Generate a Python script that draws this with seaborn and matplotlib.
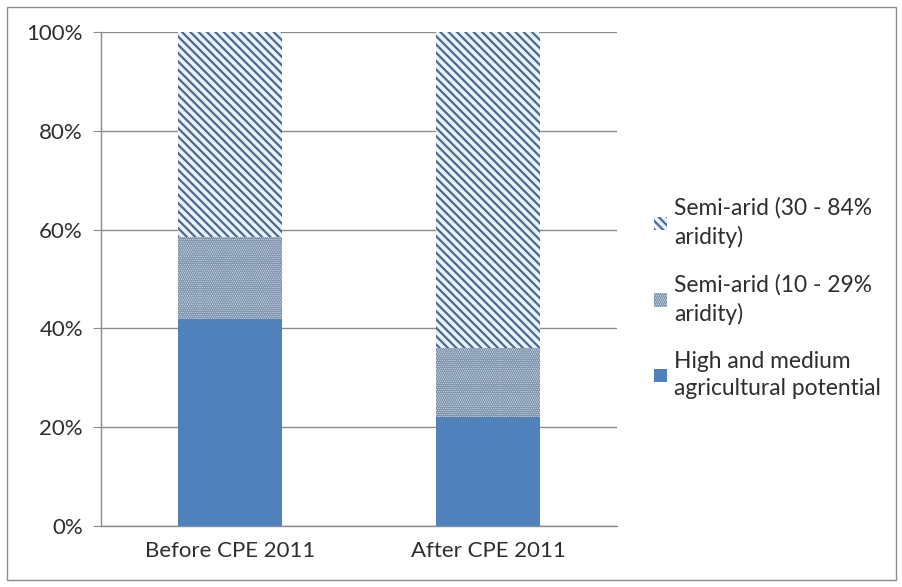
"""Stacked 100% bars: land share by agricultural potential before/after CPE 2011."""

import matplotlib

matplotlib.use("Agg")
import matplotlib.pyplot as plt
import seaborn as sns
from matplotlib.patches import Patch, Rectangle
from matplotlib.ticker import FuncFormatter


periods = ["Before CPE 2011", "After CPE 2011"]
high_medium = [42.0, 22.0]
semi_arid_10_29 = [16.5, 14.0]
semi_arid_30_84 = [41.5, 64.0]

labels = [
    "Semi-arid (30 - 84%\naridity)",
    "Semi-arid (10 - 29%\naridity)",
    "High and medium\nagricultural potential",
]

BLUE = "#4F81BD"
TEXT = "#2E2E2E"
GRID = "#8C8C8C"
STRIPE_BG = "#EAF4FD"
STRIPE = "#4D6891"
DOT_BG = "#C4D3E4"
DOT = "#7F93AC"
STRIPES = "\\" * 4
DOTS = "." * 8


def main():
    sns.set_style("white")
    plt.rcParams["font.family"] = ["Lato", "DejaVu Sans"]
    plt.rcParams["hatch.linewidth"] = 1.6

    fig = plt.figure(figsize=(9.03, 5.87), dpi=100)
    ax = fig.add_axes([101 / 903, 1 - 526 / 587, 516 / 903, 494 / 587])

    # cumulative heights, drawn tallest first so the shorter layers sit on top
    mid_top = [h + m for h, m in zip(high_medium, semi_arid_10_29)]
    total = [t + s for t, s in zip(mid_top, semi_arid_30_84)]

    sns.barplot(x=periods, y=total, ax=ax, width=0.4, color=STRIPE_BG,
                saturation=1, edgecolor=STRIPE, linewidth=0, hatch=STRIPES)
    sns.barplot(x=periods, y=mid_top, ax=ax, width=0.4, color=DOT_BG,
                saturation=1, edgecolor=DOT, linewidth=0, hatch=DOTS)
    sns.barplot(x=periods, y=high_medium, ax=ax, width=0.4, color=BLUE,
                saturation=1, linewidth=0)

    ax.set_xlim(-0.5, 1.5)
    ax.set_ylim(0, 100)
    ax.set_yticks(range(0, 101, 20))
    ax.yaxis.set_major_formatter(FuncFormatter(lambda v, _: f"{v:.0f}%"))
    ax.set_axisbelow(True)
    ax.yaxis.grid(True, color=GRID, linewidth=1)
    ax.xaxis.grid(False)

    for side in ("top", "right"):
        ax.spines[side].set_visible(False)
    for side in ("left", "bottom"):
        ax.spines[side].set_color(GRID)
        ax.spines[side].set_linewidth(1)

    ax.set_xticks([-0.5, 0.5, 1.5], minor=True)
    ax.tick_params(axis="x", which="major", length=0, pad=11,
                   labelsize=16, labelcolor=TEXT)
    ax.tick_params(axis="x", which="minor", length=6, color=GRID, direction="out")
    ax.tick_params(axis="y", length=6, color=GRID, direction="out", pad=7,
                   labelsize=16, labelcolor=TEXT, left=True)
    ax.set_xlabel("")
    ax.set_ylabel("")

    handles = [
        Patch(facecolor=STRIPE_BG, edgecolor=STRIPE, hatch=STRIPES, linewidth=0),
        Patch(facecolor=DOT_BG, edgecolor=DOT, hatch=DOTS, linewidth=0),
        Patch(facecolor=BLUE, linewidth=0),
    ]
    leg = fig.legend(handles, labels, loc="upper left",
                     bbox_to_anchor=(634 / 903, 1 - 177 / 587),
                     frameon=False, fontsize=16.4, labelcolor=TEXT,
                     handlelength=0.55, handleheight=0.55, handletextpad=0.3,
                     labelspacing=1.13)
    for text in leg.get_texts():
        text.set_linespacing(1.4)

    fig.patches.append(Rectangle((7 / 903, 1 - 580 / 587), 889 / 903, 573 / 587,
                                 transform=fig.transFigure, fill=False,
                                 edgecolor=GRID, linewidth=1))

    fig.savefig("out.png", dpi=100)
    plt.close(fig)


if __name__ == "__main__":
    main()
